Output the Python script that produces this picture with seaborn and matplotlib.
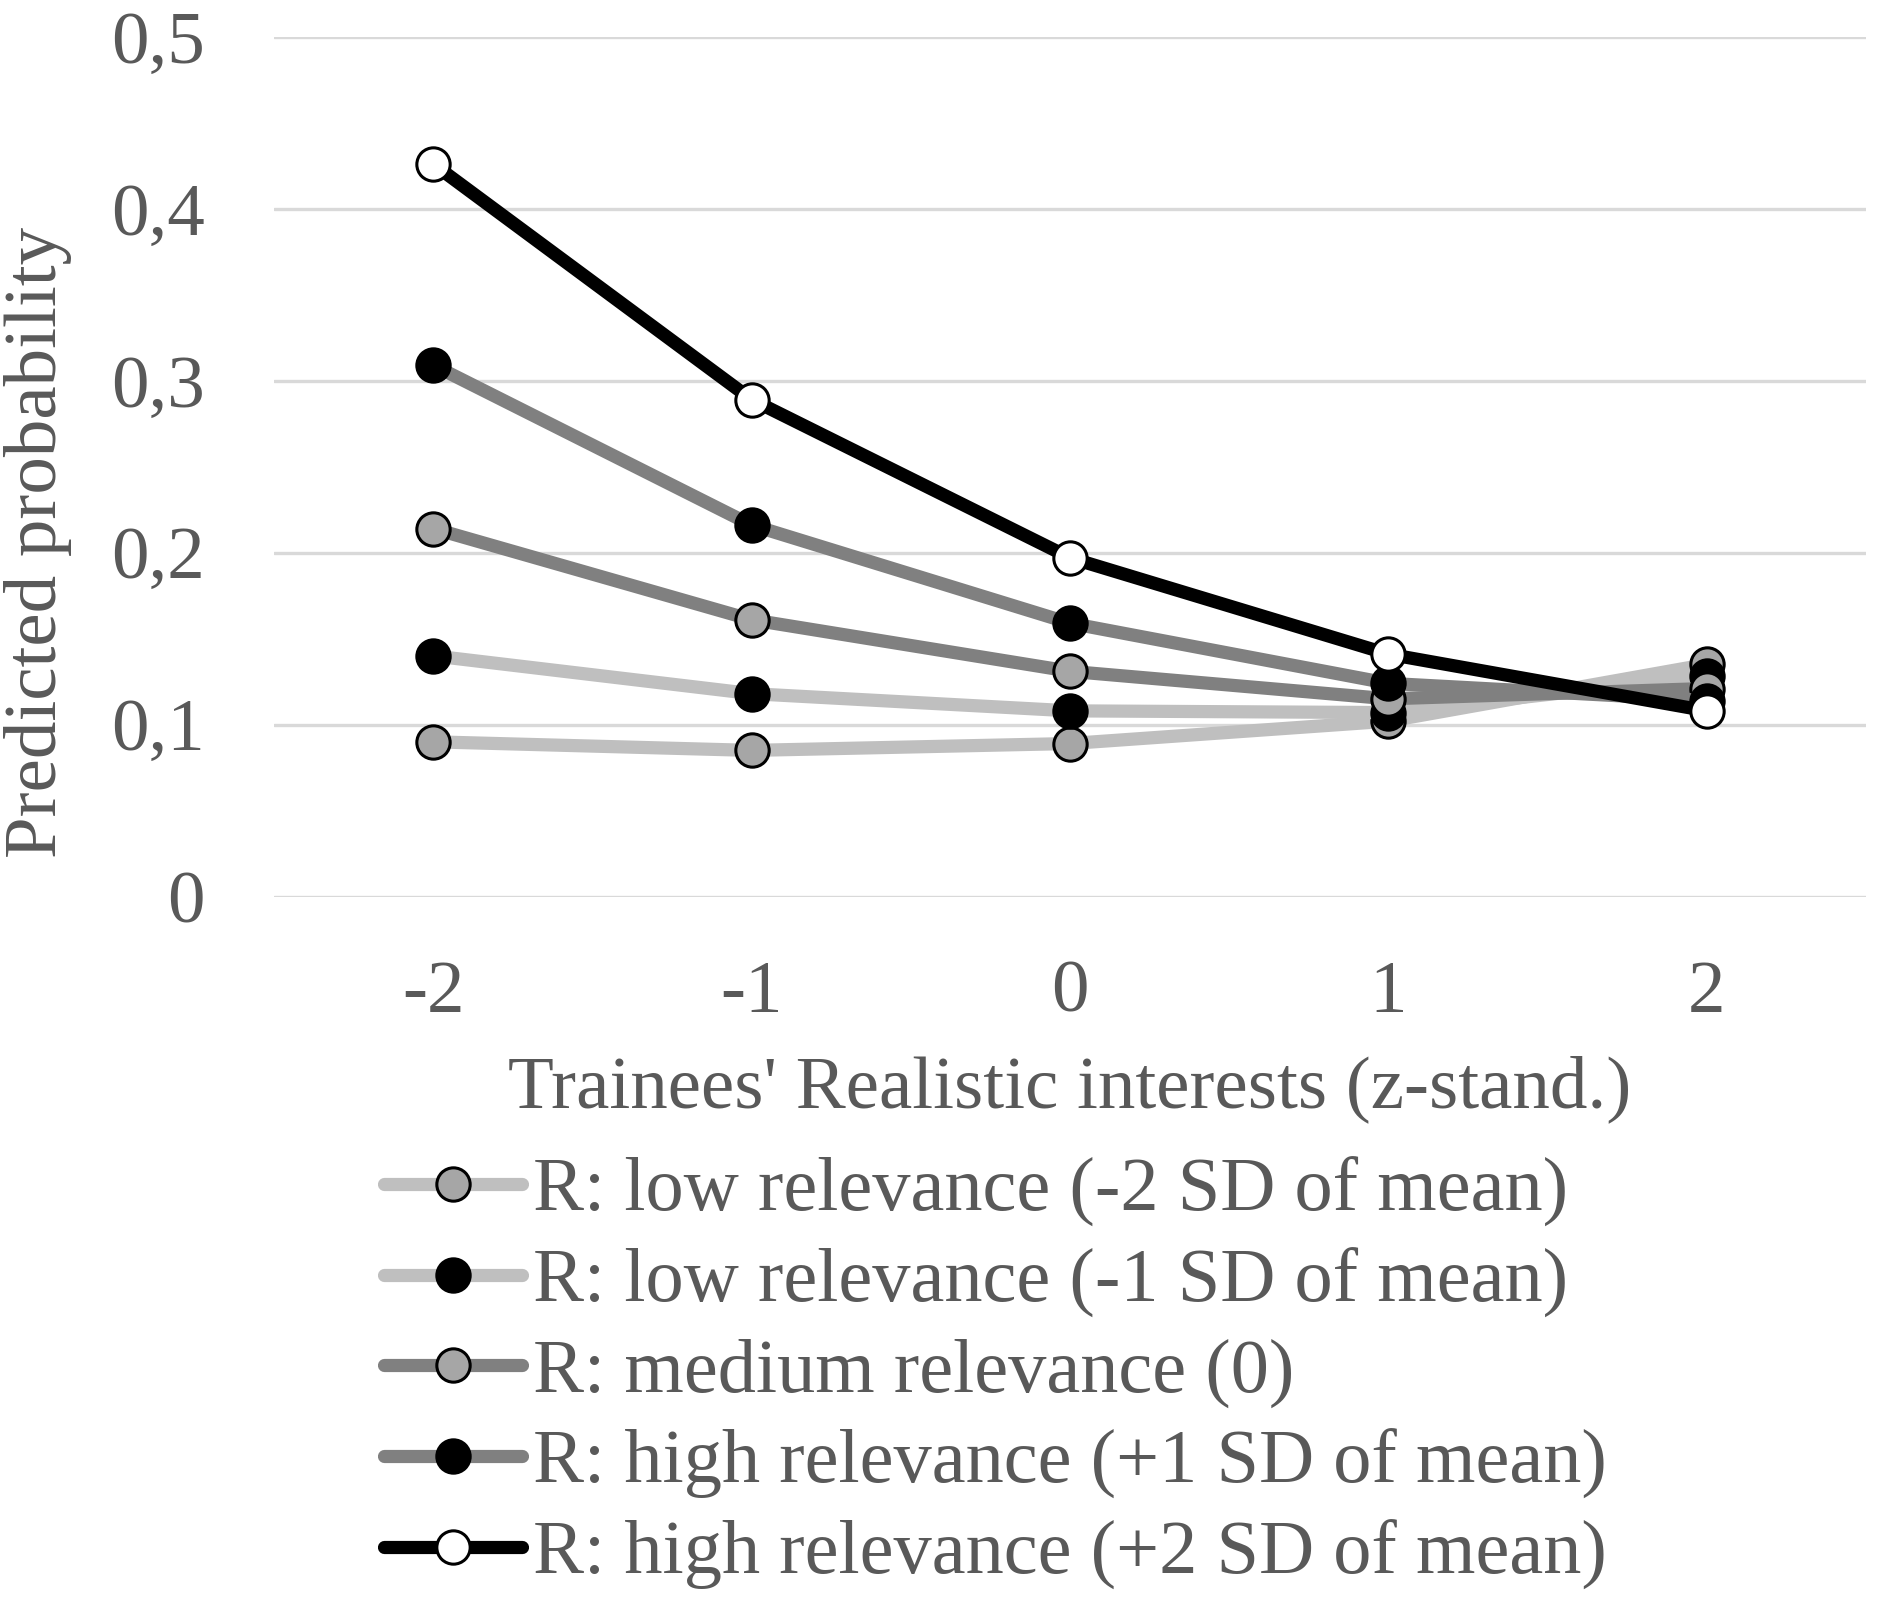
import matplotlib
matplotlib.use("Agg")
import pandas as pd
import matplotlib.pyplot as plt
import seaborn as sns

# Data
interest_levels = [-2, -1, 0, 1, 2]
series_names = [
    "R: low relevance (-2 SD of mean)",
    "R: low relevance (-1 SD of mean)",
    "R: medium relevance (0)",
    "R: high relevance (+1 SD of mean)",
    "R: high relevance (+2 SD of mean)",
]
low2_vals = [0.090, 0.085, 0.089, 0.102, 0.135]
low1_vals = [0.140, 0.118, 0.108, 0.107, 0.128]
medium_vals = [0.214, 0.161, 0.131, 0.115, 0.121]
high1_vals = [0.309, 0.216, 0.159, 0.124, 0.114]
high2_vals = [0.426, 0.289, 0.197, 0.141, 0.108]
y_ticks = [0, 0.1, 0.2, 0.3, 0.4, 0.5]
y_tick_labels = ["0", "0,1", "0,2", "0,3", "0,4", "0,5"]

line_colors = ["#bfbfbf", "#bfbfbf", "#808080", "#808080", "#000000"]
marker_faces = ["#a6a6a6", "#000000", "#a6a6a6", "#000000", "#ffffff"]

rows = []
for name, vals in zip(series_names, [low2_vals, low1_vals, medium_vals, high1_vals, high2_vals]):
    for x, v in zip(interest_levels, vals):
        rows.append({"interest": x, "prob": v, "series": name})
df = pd.DataFrame(rows)

sns.set_style("white")
plt.rcParams["font.family"] = ["Liberation Serif", "DejaVu Serif"]
text_col = "#595959"

fig = plt.figure(figsize=(18.78, 16.01), dpi=100)
ax = fig.add_axes([0.146, 0.440, 0.8476, 0.537])

for name, lc, mf in zip(series_names, line_colors, marker_faces):
    sns.lineplot(data=df[df["series"] == name], x="interest", y="prob",
                 ax=ax, color=lc, linewidth=9.5, marker="o", markersize=24,
                 markerfacecolor=mf, markeredgecolor="black",
                 markeredgewidth=2.2, label=name)

ax.set_xlim(-2.5, 2.5)
ax.set_ylim(0, 0.5)
ax.set_xticks(interest_levels)
ax.set_xticklabels([str(v) for v in interest_levels])
ax.set_yticks(y_ticks)
ax.set_yticklabels(y_tick_labels)
ax.yaxis.grid(True, color="#d9d9d9", linewidth=2.4)
ax.set_axisbelow(True)
for s in ax.spines.values():
    s.set_visible(False)
ax.tick_params(axis="both", length=0, labelsize=54, colors=text_col)
ax.tick_params(axis="y", pad=50)
ax.tick_params(axis="x", pad=46)

ax.set_xlabel("Trainees' Realistic interests (z-stand.)", fontsize=54, color=text_col, labelpad=20)
ax.set_ylabel("Predicted probability", fontsize=54, color=text_col)
ax.yaxis.set_label_coords(-0.127, 0.412)

handles, labels = ax.get_legend_handles_labels()
ax.get_legend().remove()
fig.legend(handles, labels, loc="upper left", bbox_to_anchor=(0.2045, 0.2775),
           frameon=False, fontsize=55, labelcolor=text_col,
           handlelength=1.8, handletextpad=0.15, labelspacing=0.27,
           borderaxespad=0, borderpad=0)

fig.savefig("out.png", dpi=100)
